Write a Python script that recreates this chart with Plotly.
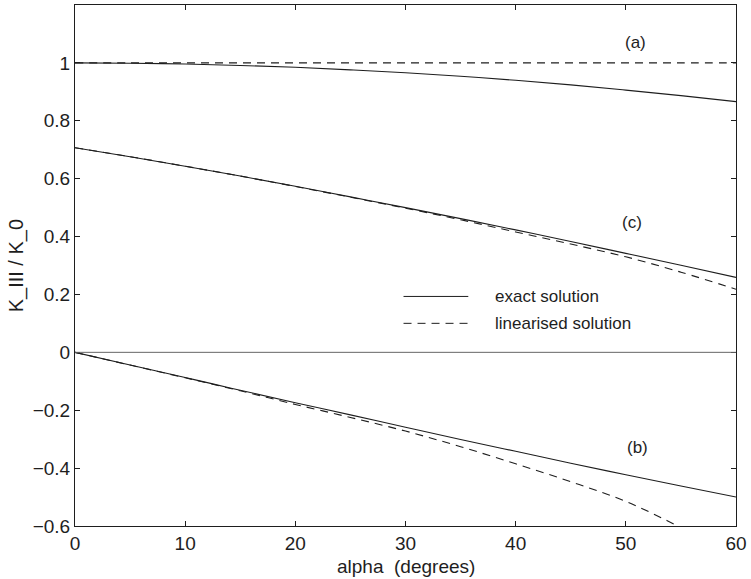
import plotly.graph_objects as go

# Angle samples (degrees)
alpha = [0, 5, 10, 15, 20, 25, 30, 35, 40, 45, 50, 55, 60]

# (a) normalised stress intensity factor
a_exact = [1.000, 0.999, 0.996, 0.991, 0.985, 0.976, 0.966, 0.954, 0.940, 0.924, 0.906, 0.887, 0.866]
a_lin = [1.0] * 13

# (c)
c_exact = [0.707, 0.676, 0.643, 0.609, 0.574, 0.537, 0.500, 0.462, 0.423, 0.383, 0.342, 0.301, 0.259]
c_lin = [0.707, 0.676, 0.643, 0.609, 0.573, 0.536, 0.498, 0.458, 0.416, 0.374, 0.330, 0.277, 0.218]

# (b)
b_exact = [0.000, -0.044, -0.087, -0.131, -0.174, -0.216, -0.259, -0.301, -0.342, -0.383, -0.423, -0.462, -0.500]
b_lin = [0.000, -0.044, -0.088, -0.133, -0.180, -0.225, -0.272, -0.326, -0.385, -0.447, -0.515, -0.605, -0.700]

case_labels = ["(a)", "(c)", "(b)"]
label_pos = [(50.9, 1.069), (50.6, 0.448), (51.1, -0.328)]

ink = "#1e1e1e"
font = "Liberation Sans, Arial, sans-serif"

fig = go.Figure()
for ex, ln in [(a_exact, a_lin), (c_exact, c_lin), (b_exact, b_lin)]:
    fig.add_trace(go.Scatter(x=alpha, y=ex, mode="lines", line=dict(color=ink, width=1.1),
                             line_shape="spline", showlegend=False))
    fig.add_trace(go.Scatter(x=alpha, y=ln, mode="lines", line=dict(color=ink, width=1.1, dash="8px,6px"),
                             line_shape="spline", showlegend=False))

for lab, (lx, ly) in zip(case_labels, label_pos):
    fig.add_annotation(x=lx, y=ly, text=lab, showarrow=False,
                       font=dict(family=font, size=17, color=ink))

# Hand-drawn legend inside the axes
fig.add_shape(type="line", xref="paper", yref="paper", x0=0.497, x1=0.595, y0=0.4406, y1=0.4406,
              line=dict(color=ink, width=1))
fig.add_shape(type="line", xref="paper", yref="paper", x0=0.497, x1=0.595, y0=0.389, y1=0.389,
              line=dict(color=ink, width=1, dash="8px,6px"))
fig.add_annotation(xref="paper", yref="paper", x=0.632, y=0.4406, text="exact solution",
                   showarrow=False, xanchor="left", font=dict(family=font, size=17, color=ink))
fig.add_annotation(xref="paper", yref="paper", x=0.632, y=0.389, text="linearised solution",
                   showarrow=False, xanchor="left", font=dict(family=font, size=17, color=ink))

# Zero reference line
fig.add_shape(type="line", xref="paper", yref="y", x0=0, x1=1, y0=0, y1=0,
              line=dict(color="#666", width=1))

# Axis titles
fig.add_annotation(xref="paper", yref="paper", x=0.5, y=-0.0785, text="alpha  (degrees)",
                   showarrow=False, yanchor="middle", font=dict(family=font, size=19, color=ink))
fig.add_annotation(xref="paper", yref="paper", x=-0.088, y=0.5, text="K_III / K_0", textangle=-90,
                   showarrow=False, xanchor="center", yanchor="middle",
                   font=dict(family=font, size=20, color=ink))

axis_common = dict(showgrid=False, zeroline=False, showline=True, linecolor=ink, linewidth=1,
                   mirror="ticks", ticks="inside", ticklen=5, tickcolor=ink,
                   tickfont=dict(family=font, size=19, color=ink))

fig.update_layout(
    width=751, height=579,
    margin=dict(l=75, r=12, t=4, b=53),
    paper_bgcolor="white", plot_bgcolor="white",
    xaxis=dict(range=[0, 60], tickvals=[0, 10, 20, 30, 40, 50, 60], **axis_common),
    yaxis=dict(range=[-0.6, 1.2], tickvals=[-0.6, -0.4, -0.2, 0, 0.2, 0.4, 0.6, 0.8, 1.0],
               ticktext=["\u22120.6", "\u22120.4", "\u22120.2", "0", "0.2", "0.4", "0.6", "0.8", "1"],
               **axis_common),
)

fig.write_html("out.html")
